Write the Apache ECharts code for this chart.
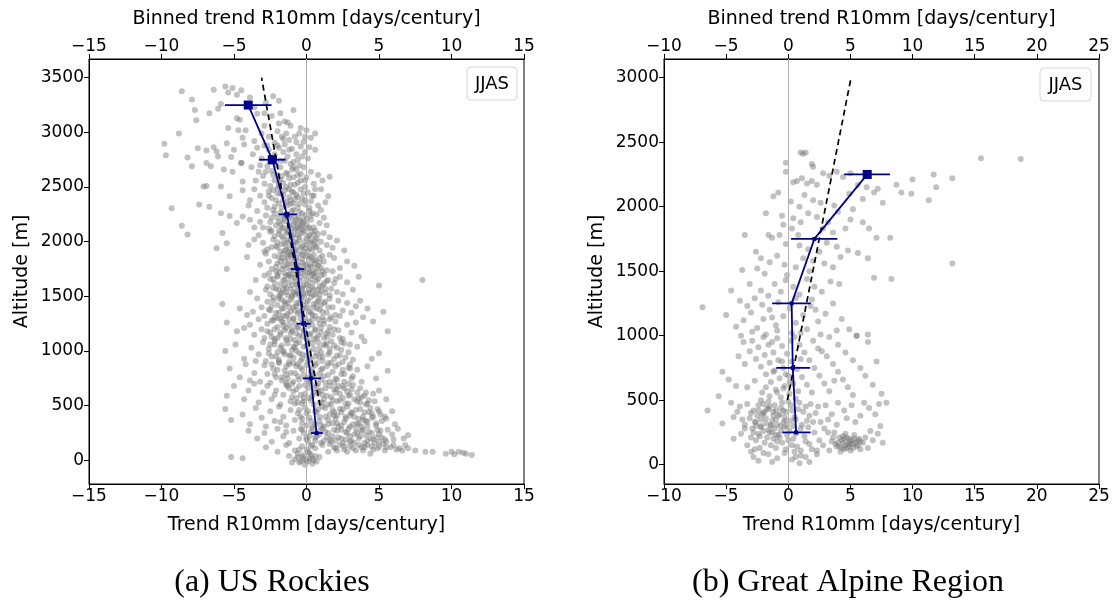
<!DOCTYPE html>
<html>
<head>
<meta charset="utf-8">
<script src="https://cdn.jsdelivr.net/npm/echarts@6/dist/echarts.min.js"></script>
<style>html,body{margin:0;padding:0;background:#fff}#c{width:1116px;height:600px}</style>
</head>
<body>
<div id="c"></div>
<script>
// ---------------- DATA ----------------
const rockiesXTicks = [-15, -10, -5, 0, 5, 10, 15];
const garXTicks = [-10, -5, 0, 5, 10, 15, 20, 25];
const rockiesAltTicks = [0, 500, 1000, 1500, 2000, 2500, 3000, 3500];
const garAltTicks = [0, 500, 1000, 1500, 2000, 2500, 3000];

// station trends [trend, altitude] — US Rockies
const rockiesPts = [
[-6.4,3390],[-5.6,3420],[-5.1,3405],[-4.5,3385],[-4.8,3345],[-5.4,3365],[-8.6,3375],[-7.9,3300],[-3.9,3320],[-2.3,3330],[-1.9,3290],[-2.8,3270],
[-7.7,3205],[-7.6,3110],[-6.1,3215],[-6.7,3175],[-4.8,3130],[-4.6,3115],[-3.4,3170],[-2.9,3175],[-1.8,3175],[-0.9,3205],[-1.5,3100],[-1.3,3090],[-3.6,3230],[-5.9,3260],[-2.4,3150],
[-8.8,2990],[-5.4,3040],[-4.7,3020],[-4.2,3020],[-0.4,3040],[0.0,3020],[0.6,2990],[-0.2,2915],[-1.1,3060],[-2.0,3010],[-2.6,2960],[-3.1,2990],[-1.6,2940],[-0.8,2960],[-3.6,2920],[-2.2,2905],[-1.2,2930],[0.3,2950],[-0.5,2990],[-1.9,3080],[-9.8,2895],[-4.4,2950],[-2.9,3060],[-0.1,2960],[-1.4,2990],
[-9.7,2790],[-7.5,2855],[-6.9,2835],[-6.4,2865],[-6.2,2825],[-5.5,2900],[-5.0,2840],[-4.3,2890],[-8.2,2770],[-6.1,2780],[-5.2,2775],[-4.5,2720],[0.2,2865],[0.6,2840],[-3.4,2860],[-2.9,2880],[-2.6,2840],[-2.2,2800],[-1.9,2860],[-1.6,2820],[-1.3,2780],[-1.0,2850],[-0.7,2800],[-0.4,2870],[-0.1,2820],[-3.1,2760],[-2.5,2730],[-1.8,2740],[-1.1,2710],[-0.6,2750],[0.1,2760],[-3.7,2800],[-1.5,2890],[-0.9,2730],[-2.0,2880],
[-7.9,2690],[-6.9,2720],[-6.6,2690],[-5.7,2660],[-5.1,2640],[-4.5,2720],[-7.1,2505],[-6.9,2510],[-5.9,2505],[-4.4,2550],[1.6,2595],[-3.8,2680],[-3.3,2640],[-3.0,2600],[-2.7,2690],[-2.4,2650],[-2.2,2560],[-2.0,2610],[-1.8,2680],[-1.6,2540],[-1.4,2630],[-1.2,2580],[-1.0,2660],[-0.8,2520],[-0.6,2610],[-0.4,2560],[-0.2,2680],[0.0,2590],[0.3,2640],[0.5,2530],[-2.9,2530],[-2.5,2510],[-1.7,2600],[-1.1,2520],[-0.5,2700],[0.8,2610],[-3.5,2560],[-1.9,2510],[-0.9,2590],[1.1,2560],
[-5.3,2415],[-4.4,2470],[-7.4,2340],[-9.3,2305],[-6.7,2320],[1.5,2415],[-3.6,2480],[-3.2,2420],[-2.9,2360],[-2.6,2460],[-2.4,2400],[-2.2,2320],[-2.0,2490],[-1.8,2440],[-1.6,2380],[-1.5,2470],[-1.3,2330],[-1.2,2410],[-1.0,2460],[-0.9,2350],[-0.7,2430],[-0.6,2310],[-0.4,2480],[-0.3,2390],[-0.1,2340],[0.1,2450],[0.3,2370],[0.5,2420],[0.8,2330],[1.0,2480],[-2.7,2310],[-1.9,2350],[-1.4,2500],[-0.8,2390],[-0.2,2440],[0.2,2310],[-3.9,2380],[-2.3,2470],[-1.1,2380],[-0.5,2350],[0.6,2480],[-4.0,2330],[-1.7,2310],[-0.1,2500],[1.3,2360],
[-5.9,2260],[-5.3,2235],[-4.4,2230],[-8.6,2145],[-3.9,2200],[1.0,2290],[-3.4,2280],[-3.0,2130],[-2.8,2240],[-2.5,2180],[-2.3,2290],[-2.1,2150],[-2.0,2220],[-1.8,2270],[-1.7,2120],[-1.5,2190],[-1.4,2250],[-1.3,2110],[-1.1,2210],[-1.0,2280],[-0.9,2160],[-0.8,2230],[-0.6,2130],[-0.5,2270],[-0.4,2190],[-0.3,2110],[-0.1,2240],[0.0,2160],[0.2,2280],[0.3,2200],[0.5,2130],[0.7,2250],[0.9,2170],[1.2,2220],[-2.6,2120],[-1.9,2180],[-1.2,2150],[-0.7,2200],[-0.2,2140],[0.4,2260],[-3.2,2180],[-2.2,2260],[-1.6,2240],[-0.9,2290],[-0.3,2170],[0.1,2120],[-4.8,2170],[-3.6,2130],[-2.4,2220],[1.4,2150],
[-8.2,2065],[-5.8,2080],[-5.5,1985],[-6.2,1940],[-4.0,1970],[1.2,2080],[2.1,2010],[2.6,1920],[1.8,1945],[-3.3,2060],[-3.0,1990],[-2.7,1930],[-2.5,2090],[-2.3,2020],[-2.1,1960],[-1.9,2070],[-1.8,1910],[-1.6,2030],[-1.5,1980],[-1.3,2090],[-1.2,1940],[-1.1,2010],[-0.9,2060],[-0.8,1920],[-0.7,1990],[-0.5,2040],[-0.4,1950],[-0.3,2080],[-0.2,1910],[-0.1,2000],[0.1,2050],[0.2,1940],[0.4,2090],[0.5,1980],[0.7,2030],[0.9,1920],[1.0,2000],[-2.0,1995],[-1.4,1930],[-1.0,2040],[-0.6,2100],[0.0,1970],[0.3,2010],[0.6,1950],[-1.7,2050],[-2.4,1950],[-0.8,2000],[0.8,2070],[1.4,1970],[-3.6,2020],[-1.2,1900],[-0.3,1960],[0.2,2060],[1.6,2040],[-2.9,1910],
[-4.1,1860],[-5.5,1750],[2.8,1820],[3.3,1780],[1.9,1850],[-2.8,1890],[-2.6,1820],[-2.4,1750],[-2.2,1870],[-2.0,1800],[-1.9,1720],[-1.7,1850],[-1.6,1780],[-1.5,1710],[-1.3,1880],[-1.2,1800],[-1.1,1740],[-1.0,1860],[-0.9,1770],[-0.8,1700],[-0.7,1830],[-0.6,1760],[-0.5,1890],[-0.4,1720],[-0.3,1810],[-0.2,1750],[-0.1,1870],[0.0,1790],[0.1,1710],[0.2,1840],[0.3,1770],[0.4,1730],[0.5,1880],[0.6,1800],[0.7,1720],[0.9,1850],[1.0,1760],[1.2,1820],[1.4,1740],[1.6,1880],[-1.8,1820],[-1.4,1760],[-0.9,1820],[-0.5,1740],[-0.1,1790],[0.3,1860],[0.8,1780],[-2.1,1730],[-1.2,1700],[-0.3,1880],[0.5,1710],[1.1,1870],[-3.2,1790],[-2.6,1710],[1.8,1730],[2.3,1760],[-0.7,1790],[0.1,1760],[-1.6,1890],[0.6,1830],
[-3.5,1650],[-3.9,1540],[8.0,1650],[5.0,1600],[3.6,1680],[3.2,1560],[2.8,1630],[2.5,1520],[-2.9,1690],[-2.7,1590],[-2.5,1520],[-2.3,1660],[-2.1,1570],[-2.0,1690],[-1.8,1610],[-1.7,1530],[-1.5,1650],[-1.4,1580],[-1.3,1510],[-1.1,1680],[-1.0,1600],[-0.9,1540],[-0.8,1670],[-0.6,1590],[-0.5,1510],[-0.4,1640],[-0.3,1560],[-0.1,1690],[0.0,1610],[0.1,1530],[0.3,1660],[0.4,1580],[0.5,1510],[0.7,1640],[0.8,1560],[1.0,1690],[1.1,1600],[1.3,1530],[1.5,1650],[1.7,1570],[1.9,1620],[2.1,1540],[2.3,1680],[-2.2,1620],[-1.6,1560],[-1.2,1630],[-0.7,1550],[-0.2,1600],[0.2,1560],[0.6,1680],[1.2,1620],[-1.9,1500],[-0.8,1520],[0.9,1520],[-1.4,1690],[-0.2,1530],[0.4,1620],[1.6,1510],[-2.8,1560],[2.0,1660],
[-5.8,1430],[-4.6,1390],[-4.1,1330],[3.7,1460],[4.2,1390],[5.3,1360],[3.9,1310],[-3.4,1480],[-3.1,1400],[-2.9,1320],[-2.7,1450],[-2.5,1370],[-2.3,1490],[-2.2,1310],[-2.0,1420],[-1.9,1350],[-1.7,1470],[-1.6,1390],[-1.4,1320],[-1.3,1440],[-1.1,1360],[-1.0,1490],[-0.9,1300],[-0.7,1410],[-0.6,1340],[-0.4,1470],[-0.3,1380],[-0.1,1310],[0.0,1450],[0.2,1360],[0.3,1490],[0.5,1400],[0.6,1320],[0.8,1460],[0.9,1380],[1.1,1310],[1.2,1440],[1.4,1350],[1.6,1480],[1.8,1400],[2.0,1330],[2.2,1460],[2.5,1370],[2.8,1440],[3.1,1350],[-2.4,1410],[-1.5,1450],[-0.8,1370],[-0.2,1420],[0.4,1330],[1.0,1420],[1.7,1310],[-1.2,1400],[0.1,1400],[0.7,1440],[2.3,1320],[-3.7,1360],[-1.8,1300],[3.4,1410],[-0.5,1440],
[-5.5,1260],[-4.8,1180],[-3.9,1240],[4.6,1270],[5.6,1180],[3.8,1130],[-3.3,1290],[-3.1,1200],[-2.9,1120],[-2.7,1250],[-2.5,1170],[-2.3,1280],[-2.2,1110],[-2.0,1220],[-1.8,1150],[-1.7,1270],[-1.5,1190],[-1.4,1120],[-1.2,1240],[-1.1,1160],[-0.9,1290],[-0.8,1100],[-0.6,1210],[-0.5,1140],[-0.3,1260],[-0.2,1180],[0.0,1110],[0.1,1230],[0.3,1160],[0.4,1290],[0.6,1200],[0.7,1120],[0.9,1250],[1.0,1170],[1.2,1280],[1.4,1130],[1.6,1220],[1.8,1150],[2.0,1270],[2.2,1190],[2.5,1110],[2.8,1240],[3.1,1170],[3.4,1260],[-2.4,1130],[-1.6,1230],[-0.7,1160],[0.2,1270],[0.8,1140],[1.5,1180],[-1.0,1200],[-0.1,1250],[2.3,1120],[-3.6,1150],[-4.3,1210],
[-5.6,1000],[-4.9,1060],[-4.3,930],[-3.8,1030],[4.0,1090],[5.0,980],[4.5,930],[-3.3,970],[-3.0,1080],[-2.8,910],[-2.6,1020],[-2.4,950],[-2.2,1090],[-2.0,990],[-1.9,920],[-1.7,1050],[-1.5,970],[-1.4,1100],[-1.2,900],[-1.0,1010],[-0.9,940],[-0.7,1070],[-0.5,980],[-0.4,910],[-0.2,1040],[0.0,960],[0.1,1090],[0.3,920],[0.5,1020],[0.6,950],[0.8,1080],[1.0,990],[1.1,910],[1.3,1050],[1.5,970],[1.7,1090],[1.9,930],[2.1,1030],[2.3,960],[2.6,1070],[2.9,990],[3.2,920],[3.5,1040],[-2.5,1060],[-1.6,1000],[-0.8,1030],[0.2,1000],[0.9,940],[1.6,1020],[2.4,1010],[-1.1,960],[-0.3,930],[1.2,1060],[-3.5,910],[3.0,1060],
[-5.3,840],[-4.6,760],[-4.2,880],[5.6,820],[4.8,750],[4.2,860],[-3.6,800],[-3.2,720],[-2.9,870],[-2.7,790],[-2.5,710],[-2.3,840],[-2.1,760],[-1.9,890],[-1.7,730],[-1.5,820],[-1.3,750],[-1.2,880],[-1.0,700],[-0.8,800],[-0.7,860],[-0.5,740],[-0.3,830],[-0.2,780],[0.0,870],[0.2,720],[0.3,810],[0.5,760],[0.7,890],[0.8,700],[1.0,830],[1.2,770],[1.4,860],[1.6,720],[1.8,810],[2.0,750],[2.2,880],[2.4,790],[2.6,720],[2.9,850],[3.2,770],[3.5,830],[3.8,720],[-2.0,830],[-1.4,780],[-0.6,880],[0.1,760],[0.9,790],[1.7,890],[2.5,830],[-0.9,720],[0.4,850],[3.0,880],[-3.9,730],[1.3,710],
[-5.5,590],[-5.0,680],[-4.3,560],[-4.0,640],[5.5,560],[5.0,640],[-3.6,700],[-3.3,530],[-3.0,620],[-2.7,680],[-2.4,560],[-2.1,640],[-1.8,510],[-1.6,600],[-1.4,690],[-1.1,540],[-0.9,630],[-0.7,570],[-0.5,680],[-0.3,520],[-0.1,610],[0.1,660],[0.3,550],[0.5,620],[0.7,690],[0.9,530],[1.1,600],[1.3,660],[1.5,510],[1.7,580],[1.9,650],[2.1,540],[2.3,610],[2.5,680],[2.7,520],[2.9,590],[3.1,650],[3.3,560],[3.5,620],[3.7,530],[4.0,590],[4.3,550],[4.6,610],[-2.2,600],[-1.2,660],[-0.2,570],[0.8,640],[1.8,550],[2.8,630],[3.8,580],[-0.6,530],[0.4,590],[2.2,680],[4.2,520],[1.2,560],
[-5.6,470],[-5.2,370],[-4.4,420],[-3.9,330],[5.9,450],[5.4,400],[6.1,330],[-3.5,480],[-3.1,390],[-2.8,310],[-2.5,450],[-2.2,360],[-1.9,490],[-1.6,400],[-1.4,320],[-1.1,460],[-0.8,370],[-0.6,430],[-0.3,340],[-0.1,480],[0.2,390],[0.4,310],[0.6,450],[0.9,360],[1.1,490],[1.3,400],[1.5,330],[1.8,460],[2.0,380],[2.2,310],[2.4,440],[2.6,350],[2.8,490],[3.0,410],[3.2,330],[3.4,460],[3.6,380],[3.8,310],[4.0,440],[4.2,350],[4.4,480],[4.6,400],[4.8,320],[5.0,450],[5.2,360],[0.0,430],[0.8,470],[1.6,420],[2.3,470],[3.1,440],[3.9,400],[4.5,430],[1.0,320],[2.1,340],[3.5,340],[-1.8,350],[-0.4,400],[2.7,400],[4.1,360],[1.9,410],
[-4.0,270],[-3.4,200],[-2.9,250],[-2.4,170],[-2.0,290],[-1.6,220],[-1.2,160],[-0.9,270],[-0.5,200],[-0.2,250],[0.1,170],[0.4,290],[0.7,220],[1.0,160],[1.3,260],[1.6,190],[1.9,280],[2.2,210],[2.5,160],[2.8,250],[3.1,180],[3.4,290],[3.7,220],[4.0,160],[4.3,260],[4.6,190],[4.9,280],[5.2,210],[5.5,170],[5.9,240],[6.3,290],[6.7,200],[7.0,230],[0.2,220],[0.9,240],[1.7,170],[2.4,280],[3.0,220],[3.8,270],[4.4,200],[5.0,240],[0.6,180],[1.4,210],[2.0,180],[2.7,190],[3.5,250],[4.1,230],[-1.4,260],[-0.4,290],[0.0,210],[1.1,290],[2.9,290],[4.7,160],[5.6,280],[6.0,190],
[-2.8,120],[-2.0,80],[-1.4,140],[-0.8,90],[-0.3,130],[0.2,70],[0.6,110],[1.1,140],[1.5,80],[1.9,120],[2.3,140],[2.6,100],[3.0,130],[3.4,90],[3.8,120],[4.2,140],[4.6,100],[5.0,130],[5.4,90],[5.8,120],[6.2,100],[6.6,90],[7.0,110],[7.5,90],[8.2,80],[8.7,80],[9.6,60],[10.2,55],[10.5,80],[10.8,70],[11.0,60],[11.4,50],[10.0,80],[6.0,140],[4.9,110],[3.9,90],[3.2,110],[2.8,80],[0.0,100],[-0.6,60],[0.4,140],[4.4,60],[5.3,150],[6.8,140],[2.1,90],
[-1.2,40],[-0.8,10],[-0.5,-20],[-0.3,30],[-0.1,-40],[0.0,0],[0.2,20],[0.4,-30],[0.6,40],[-0.6,30],[0.1,-10],[0.3,50],[-0.2,10],[0.7,-10],[-0.4,-10],[0.9,30],[-5.2,30],[-4.4,20],[-1.0,-20],[0.5,0],
[-1.6,2210],[-1.2,2230],[-0.8,2180],[-0.5,2220],[-0.2,2190],[0.3,2240],[-1.9,2100],[-1.4,2080],[-1.0,2120],[-0.6,2060],[-0.2,2090],[0.2,2130],[0.6,2100],[-1.7,1980],[-1.3,2020],[-0.9,1970],[-0.5,2010],[-0.1,1940],[0.3,1990],[0.7,1960],[-2.2,2050],[-1.1,2070],[-0.4,2140],[0.0,2030],[0.5,2060],[-1.5,1920],[-0.7,1930],[0.1,1910],[-1.8,2160],[-0.3,2260],[-2.0,1950],[-0.6,2150],[0.4,1930],[-1.3,1990],[-0.8,2110],[0.0,2210],[-1.0,1910],[0.6,2010],[-2.4,2100],[-1.6,2130],
[-1.9,1860],[-1.5,1830],[-1.1,1880],[-0.7,1850],[-0.3,1840],[0.1,1870],[0.5,1830],[0.9,1810],[-2.1,1770],[-1.7,1750],[-1.3,1790],[-0.9,1740],[-0.5,1780],[-0.1,1730],[0.3,1790],[0.7,1760],[1.1,1730],[-2.0,1680],[-1.6,1650],[-1.2,1690],[-0.8,1640],[-0.4,1680],[0.0,1650],[0.4,1690],[0.8,1660],[1.2,1700],[-2.3,1580],[-1.9,1560],[-1.5,1600],[-1.1,1570],[-0.7,1610],[-0.3,1580],[0.1,1600],[0.5,1560],[0.9,1590],[1.3,1570],[-1.8,1520],[-1.4,1540],[-1.0,1510],[-0.6,1530],[-0.2,1510],[0.2,1530],[0.6,1520],[1.0,1550],[-2.5,1660],[-1.3,1850],[-0.6,1700],[0.2,1720],[1.4,1640],[-0.9,1900],
[-2.3,1460],[-1.9,1480],[-1.5,1430],[-1.1,1470],[-0.7,1440],[-0.3,1490],[0.1,1460],[0.5,1430],[0.9,1480],[1.3,1450],[-2.6,1380],[-2.1,1350],[-1.7,1390],[-1.3,1340],[-0.9,1400],[-0.5,1360],[-0.1,1390],[0.3,1350],[0.7,1390],[1.1,1360],[1.5,1400],[-2.4,1280],[-2.0,1300],[-1.6,1260],[-1.2,1290],[-0.8,1250],[-0.4,1300],[0.0,1270],[0.4,1240],[0.8,1290],[1.2,1250],[1.6,1290],[-2.7,1180],[-2.2,1200],[-1.8,1170],[-1.4,1210],[-1.0,1180],[-0.6,1220],[-0.2,1190],[0.2,1150],[0.6,1190],[1.0,1210],[1.4,1160],[1.9,1200],[-2.0,1120],[-1.1,1110],[-0.3,1130],[0.5,1110],[1.2,1120],[-1.6,1320],
[-2.2,1060],[-1.8,1030],[-1.3,1070],[-0.9,1040],[-0.5,1080],[0.0,1050],[0.4,1070],[0.9,1030],[1.4,1070],[1.9,1050],[2.4,1080],[-2.6,980],[-2.1,950],[-1.6,990],[-1.2,960],[-0.7,1000],[-0.3,970],[0.2,940],[0.7,980],[1.1,950],[1.6,990],[2.1,960],[2.7,940],[-2.4,880],[-1.9,900],[-1.4,860],[-0.9,890],[-0.4,850],[0.1,900],[0.6,870],[1.1,840],[1.5,890],[2.0,860],[2.5,900],[3.0,840],[-2.2,790],[-1.7,760],[-1.1,800],[-0.6,770],[0.0,740],[0.5,790],[1.0,740],[1.5,780],[2.1,740],[2.6,790],[3.1,750],[-1.4,710],[0.3,700],[1.9,710],[2.9,700],
[-1.3,680],[-0.7,650],[-0.1,690],[0.5,660],[1.0,640],[1.6,680],[2.1,650],[2.6,660],[3.2,690],[3.7,660],[-1.0,580],[-0.4,600],[0.2,570],[0.8,610],[1.4,590],[2.0,620],[2.5,570],[3.0,600],[3.6,570],[4.1,620],[-0.8,520],[-0.2,540],[0.5,510],[1.1,530],[1.7,510],[2.3,550],[2.9,520],[3.5,540],[4.1,510],[4.7,540],[-0.5,460],[0.1,450],[0.7,440],[1.3,480],[1.9,440],[2.5,470],[3.1,430],[3.7,470],[4.3,440],[4.9,470],[-0.3,380],[0.3,360],[0.9,400],[1.5,370],[2.1,410],[2.7,380],[3.3,400],[3.9,370],[4.5,390],[5.1,420],[0.0,320],[0.6,330],[1.2,310],[1.8,340],[2.4,320],[3.0,310],[3.6,330],[4.2,310],[4.8,340],[5.5,380],
[-0.3,280],[0.3,260],[0.9,270],[1.5,250],[2.1,270],[2.7,260],[3.3,240],[3.9,280],[4.5,250],[5.1,270],[0.0,190],[0.6,210],[1.2,180],[1.8,220],[2.4,200],[3.0,170],[3.6,200],[4.2,180],[4.8,210],[5.4,190],[0.3,130],[1.6,150],[2.6,130],[3.6,140],[4.5,130],[5.5,120],[6.4,110],[-0.2,50],[0.1,80],[-0.5,100],[0.4,20],[2.0,110],[3.3,160],[4.0,120],[5.0,170],
[-2.8,2640],[-2.3,2610],[-1.8,2570],[-1.3,2620],[-0.7,2660],[-2.1,2700],[-1.5,2740],[-0.9,2680],[-2.6,2420],[-2.1,2380],[-1.6,2430],[-1.1,2350],[-0.6,2410],[-0.1,2380],[-1.9,2540],[-1.2,2480],[-0.6,2540],[-0.1,2560],[-2.4,2760],[-1.2,2840],[-0.3,2780],[-2.7,2880],[-1.7,2960],[-0.7,2910],[-3.2,2700],[-2.0,2440],[-0.9,2450],[-1.4,2360],[-0.4,2620],[0.4,2420]
];

// station trends [trend, altitude] — Great Alpine Region
const garPts = [
[1.0,2420],[1.4,2420],[1.2,2410],[1.9,2330],[2.0,2310],[15.5,2375],[18.7,2370],[-0.2,2340],
[-0.2,2270],[0.4,2190],[0.7,2200],[1.1,2220],[1.5,2180],[1.9,2200],[2.3,2170],[2.8,2260],[3.3,2240],[3.9,2270],[4.4,2230],[5.0,2260],[5.6,2170],[6.3,2150],[6.9,2110],[7.2,2140],[7.6,2030],[8.7,2170],[9.1,2110],[9.9,2100],[10.0,2210],[11.3,2050],[11.7,2250],[11.9,2150],[13.2,2220],[-0.8,2110],[-1.2,2080],[0.2,2040],[0.9,2000],[1.3,2090],[2.0,2050],[2.6,2030],[3.7,2010],[4.9,2100],[6.0,2060],
[-3.5,1780],[-1.6,1780],[-1.3,1760],[-0.7,1780],[-1.8,1950],[-0.5,1930],[0.4,1910],[1.0,1880],[1.6,1950],[2.3,1920],[3.2,1880],[4.0,1960],[5.0,1900],[6.0,1880],[6.5,1830],[7.1,1760],[8.2,1760],[5.2,1980],[4.6,1830],[3.6,1800],[2.8,1830],[0.3,1830],[-0.2,1710],[0.9,1700],[1.6,1670],[2.5,1650],[3.1,1720],[3.9,1690],[4.8,1660],[5.6,1640],[6.4,1600],[-2.6,1650],[-2.2,1600],[-1.5,1570],[-0.9,1620],[-0.3,1550],[0.6,1530],[1.2,1600],[2.0,1580],[2.9,1560],[3.6,1530],[4.2,1610],[-3.7,1510],[-2.5,1520],[-1.9,1480],[-0.1,1470],[1.7,1500],[13.2,1560],[0.8,1780],[-0.4,1860],
[-6.9,1220],[-4.6,1350],[-3.9,1270],[-3.3,1230],[-2.7,1290],[-2.2,1350],[-1.6,1310],[-1.1,1400],[-0.6,1340],[-0.2,1430],[0.4,1380],[0.9,1320],[1.5,1440],[2.1,1380],[2.7,1340],[3.4,1420],[4.1,1400],[6.9,1450],[8.3,1440],[-5.0,1160],[-4.2,1070],[-3.6,1120],[-3.0,1180],[-2.5,1060],[-2.0,1130],[-1.5,1200],[-1.0,1080],[-0.4,1150],[0.1,1210],[0.6,1100],[1.2,1160],[1.8,1230],[2.4,1110],[3.0,1170],[3.6,1250],[4.3,1130],[-3.8,1000],[-2.9,1030],[-1.8,1010],[-0.9,1040],[0.3,1020],[1.5,1050],[2.6,1010],[3.9,1040],[4.9,1050],[5.5,1000],[6.4,1010],[-2.1,1240],[-0.8,1260],[0.6,1290],[1.9,1280],[-1.3,1140],[2.2,1200],[1.0,1020],[-3.1,1400],
[-5.3,720],[-4.8,660],[-4.2,610],[-5.6,530],[-3.6,950],[-3.1,880],[-2.6,820],[-2.2,760],[-1.8,700],[-1.4,640],[-1.0,580],[-0.6,520],[-2.9,960],[-2.4,910],[-1.9,850],[-1.5,790],[-1.1,730],[-0.7,670],[-0.3,610],[0.1,550],[-2.0,990],[-1.6,930],[-1.2,870],[-0.8,810],[-0.4,750],[0.0,690],[0.4,630],[0.8,570],[-0.9,980],[-0.5,920],[-0.1,860],[0.3,800],[0.7,740],[1.1,680],[1.5,620],[1.9,560],[0.5,990],[0.9,930],[1.3,870],[1.7,810],[2.1,750],[2.5,690],[2.9,630],[3.3,570],[2.0,960],[2.4,900],[3.1,840],[3.6,780],[4.0,720],[4.4,660],[4.8,600],[5.2,540],[3.3,990],[4.0,930],[4.6,870],[5.2,810],[5.8,750],[6.2,690],[6.8,620],[7.5,550],[7.1,800],[6.4,950],[5.5,1000],[-3.5,780],[-2.7,650],[-2.1,560],[-3.3,600],[-4.0,840],[-1.3,950],[0.2,960],[1.0,820],[2.7,880],[-0.2,700],[0.6,510],[3.7,650],
[-6.5,420],[-5.3,320],[-4.6,480],[-4.1,410],[-3.7,350],[-3.3,470],[-3.0,400],[-2.7,330],[-2.4,460],[-2.1,390],[-1.8,320],[-1.5,450],[-1.2,380],[-0.9,310],[-0.6,440],[-0.3,370],[0.0,490],[0.3,420],[0.6,350],[0.9,480],[1.2,410],[1.5,340],[1.8,470],[2.2,400],[2.6,330],[3.0,460],[3.5,390],[4.0,480],[4.5,420],[5.1,460],[5.8,380],[6.5,440],[7.3,470],[7.9,480],[-3.9,450],[-3.5,310],[-2.8,420],[-2.2,350],[-1.6,490],[-1.0,420],[-0.4,330],[0.2,460],[-2.5,380],[-1.9,410],[-1.3,340],[-0.7,390],[-0.1,300],[0.5,370],[1.1,310],[1.7,380],[-3.1,360],[-2.0,470],[-1.1,460],[-0.5,480],[0.8,430],[2.4,450],[3.2,350],[3.9,310],[4.7,360],[5.4,330],[6.1,480],[7.0,390],[-2.6,300],[-1.4,300],[-0.2,410],[1.4,450],[2.0,330],[-4.4,370],[-1.7,440],[0.4,300],
[-4.4,200],[-3.8,240],[-3.3,150],[-2.9,280],[-2.6,190],[-2.3,130],[-2.0,260],[-1.7,210],[-1.4,150],[-1.1,280],[-0.8,230],[-0.5,170],[-0.2,120],[0.1,260],[0.4,200],[0.7,140],[1.0,280],[1.3,220],[1.7,160],[2.1,250],[2.5,190],[-3.0,210],[-2.2,300],[-1.5,250],[-0.9,180],[-0.3,290],[0.3,150],[1.0,110],[1.6,290],[2.8,150],[3.3,110],[3.5,180],[3.7,250],[3.9,140],[4.1,210],[4.2,100],[4.4,170],[4.6,240],[4.7,130],[4.9,200],[5.0,110],[5.2,160],[5.3,230],[5.5,140],[5.6,190],[5.8,120],[6.0,170],[6.2,210],[6.4,130],[6.8,190],[7.2,240],[7.6,170],[3.6,210],[4.0,170],[4.3,130],[4.5,200],[4.8,160],[5.1,190],[5.4,170],[4.9,140],[4.4,220],[5.7,200],[3.2,250],[2.9,280],[-1.9,170],[-1.2,200],[-0.6,260],[0.0,190],[0.6,240],[1.9,120],[-3.5,280],[-2.7,120],[-1.0,130],[0.5,100],[2.3,110],[6.6,260],[7.4,300],[-2.4,240],[-0.1,230],[1.4,180],
[-2.8,60],[-2.4,30],[-1.6,80],[-0.9,50],[-0.3,90],[0.3,40],[0.9,10],[1.0,70],[1.7,20],[-1.3,20],[0.6,60],[-2.0,90],[1.4,60],[-3.0,100],[2.3,80],
[-2.6,330],[-2.2,290],[-1.8,360],[-1.4,310],[-1.0,350],[-0.6,300],[-0.2,340],[-2.4,420],[-2.0,400],[-1.6,430],[-1.2,410],[-0.8,380],[-0.4,420],[-2.8,250],[-2.3,220],[-1.3,250],[-0.7,210],[-1.6,270],[-1.0,230],[0.2,340],
[4.3,190],[4.6,150],[4.9,180],[5.2,130],[4.7,210],[5.0,160],[5.3,200],[3.8,160],[4.1,140],[5.6,150],[4.5,120],[5.8,180],
[-1.5,530],[-0.9,560],[-0.4,590],[0.1,640],[-1.2,720],[-0.5,800],[-1.8,600],[-2.2,500]
];

// binned trends (top axis)
const rockiesBinAlt  = [250, 750, 1250, 1750, 2250, 2750, 3250];
const rockiesBinMean = [0.69, 0.31, -0.23, -0.63, -1.35, -2.36, -4.02];
const rockiesBinLo   = [0.30, -0.26, -0.68, -1.09, -1.93, -3.27, -5.63];
const rockiesBinHi   = [1.12, 1.00, 0.28, -0.15, -0.66, -1.44, -2.41];
const rockiesFitX    = [0.93, -3.1];
const rockiesFitAlt  = [500, 3500];

const garBinAlt  = [250, 750, 1250, 1750, 2250];
const garBinMean = [0.63, 0.36, 0.27, 2.1, 6.35];
const garBinLo   = [-0.48, -0.97, -1.30, 0.22, 4.5];
const garBinHi   = [1.80, 1.76, 1.81, 3.95, 8.18];
const garFitX    = [-0.07, 5.05];
const garFitAlt  = [500, 3000];

// ---------------- STYLE ----------------
const FONT = 'DejaVu Sans';
const NAVY = '#00008b';
const rockiesMarkerSize = [4, 4, 4, 4, 5, 9, 9];
const garMarkerSize = [4, 4, 4, 4, 9];

function fmt(v) { return v < 0 ? '\u2212' + Math.abs(v) : String(v); }

function xAxisDef(gridIndex, ticks, pos, name) {
  return {
    type: 'value', gridIndex, position: pos,
    min: ticks[0], max: ticks[ticks.length - 1], interval: 5,
    name, nameLocation: 'middle', nameGap: pos === 'top' ? 30 : 32,
    nameTextStyle: { fontFamily: FONT, fontSize: 19, color: '#000' },
    axisLine: { show: true, onZero: false, lineStyle: { color: '#000', width: 1 } },
    axisTick: { show: true, length: 5, lineStyle: { color: '#000' } },
    axisLabel: { fontFamily: FONT, fontSize: 17, color: '#000', margin: 4, formatter: fmt },
    splitLine: { show: false }
  };
}
function yAxisDef(gridIndex, ticks, min, max) {
  return {
    type: 'value', gridIndex, min, max,
    name: 'Altitude [m]', nameLocation: 'middle', nameGap: 57,
    nameTextStyle: { fontFamily: FONT, fontSize: 19, color: '#000' },
    axisLine: { show: true, onZero: false, lineStyle: { color: '#000', width: 1 } },
    axisTick: { show: true, length: 5, customValues: ticks, lineStyle: { color: '#000' } },
    axisLabel: { fontFamily: FONT, fontSize: 17, color: '#000', margin: 5, customValues: ticks, formatter: fmt },
    splitLine: { show: false }
  };
}

function panelSeries(xBottom, xTop, yIdx, pts, binAlt, binMean, binLo, binHi, fitX, fitAlt, sizes) {
  return [
    {
      type: 'scatter', xAxisIndex: xBottom, yAxisIndex: yIdx, data: pts,
      symbolSize: 6, itemStyle: { color: '#767676', opacity: 0.45 }, silent: true, z: 1
    },
    {
      type: 'line', xAxisIndex: xTop, yAxisIndex: yIdx,
      data: fitX.map((x, i) => [x, fitAlt[i]]),
      symbol: 'none', lineStyle: { color: '#000', width: 1.7, type: [6, 4] }, z: 4,
      markLine: {
        silent: true, symbol: ['none', 'none'], label: { show: false },
        lineStyle: { color: '#b0b0b0', width: 1, type: 'solid' },
        data: [{ xAxis: 0 }], z: 2
      }
    },
    {
      type: 'custom', xAxisIndex: xTop, yAxisIndex: yIdx,
      data: binAlt.map((a, i) => [binLo[i], binHi[i], a]),
      encode: { x: [0, 1], y: 2 }, z: 5,
      renderItem: function (params, api) {
        const p1 = api.coord([api.value(0), api.value(2)]);
        const p2 = api.coord([api.value(1), api.value(2)]);
        return { type: 'line', shape: { x1: p1[0], y1: p1[1], x2: p2[0], y2: p2[1] },
                 style: { stroke: NAVY, lineWidth: 1.8 } };
      }
    },
    {
      type: 'line', xAxisIndex: xTop, yAxisIndex: yIdx,
      data: binMean.map((m, i) => [m, binAlt[i]]),
      symbol: 'rect', symbolSize: (v, p) => sizes[p.dataIndex],
      itemStyle: { color: NAVY }, lineStyle: { color: NAVY, width: 1.8 }, z: 6
    }
  ];
}

const chart = echarts.init(document.getElementById('c'), null, { renderer: 'canvas' });
chart.setOption({
  animation: false,
  backgroundColor: '#fff',
  grid: [
    { left: 89, top: 59, width: 435, height: 425, show: true, borderColor: '#000', borderWidth: 1, backgroundColor: 'transparent' },
    { left: 664, top: 59, width: 435, height: 425, show: true, borderColor: '#000', borderWidth: 1, backgroundColor: 'transparent' }
  ],
  xAxis: [
    xAxisDef(0, rockiesXTicks, 'bottom', 'Trend R10mm [days/century]'),
    xAxisDef(0, rockiesXTicks, 'top', 'Binned trend R10mm [days/century]'),
    xAxisDef(1, garXTicks, 'bottom', 'Trend R10mm [days/century]'),
    xAxisDef(1, garXTicks, 'top', 'Binned trend R10mm [days/century]')
  ],
  yAxis: [
    yAxisDef(0, rockiesAltTicks, -216, 3671),
    yAxisDef(1, garAltTicks, -150, 3145)
  ],
  series: [].concat(
    panelSeries(0, 1, 0, rockiesPts, rockiesBinAlt, rockiesBinMean, rockiesBinLo, rockiesBinHi, rockiesFitX, rockiesFitAlt, rockiesMarkerSize),
    panelSeries(2, 3, 1, garPts, garBinAlt, garBinMean, garBinLo, garBinHi, garFitX, garFitAlt, garMarkerSize)
  ),
  graphic: [
    { type: 'rect', shape: { x: 467, y: 67, width: 50, height: 33, r: 4 }, style: { fill: '#fff', stroke: '#d6d6d6', lineWidth: 1 }, z: 10 },
    { type: 'text', x: 492, y: 84, style: { text: 'JJAS', font: '18px "DejaVu Sans"', align: 'center', verticalAlign: 'middle', fill: '#000' }, z: 11 },
    { type: 'rect', shape: { x: 1040, y: 68, width: 51, height: 33, r: 4 }, style: { fill: '#fff', stroke: '#d6d6d6', lineWidth: 1 }, z: 10 },
    { type: 'text', x: 1065.5, y: 85, style: { text: 'JJAS', font: '18px "DejaVu Sans"', align: 'center', verticalAlign: 'middle', fill: '#000' }, z: 11 },
    { type: 'text', x: 272, y: 583, style: { text: '(a) US Rockies', font: '32px "Liberation Serif"', align: 'center', verticalAlign: 'middle', fill: '#000' } },
    { type: 'text', x: 848, y: 583, style: { text: '(b) Great Alpine Region', font: '32px "Liberation Serif"', align: 'center', verticalAlign: 'middle', fill: '#000' } }
  ]
});
</script>
</body>
</html>
